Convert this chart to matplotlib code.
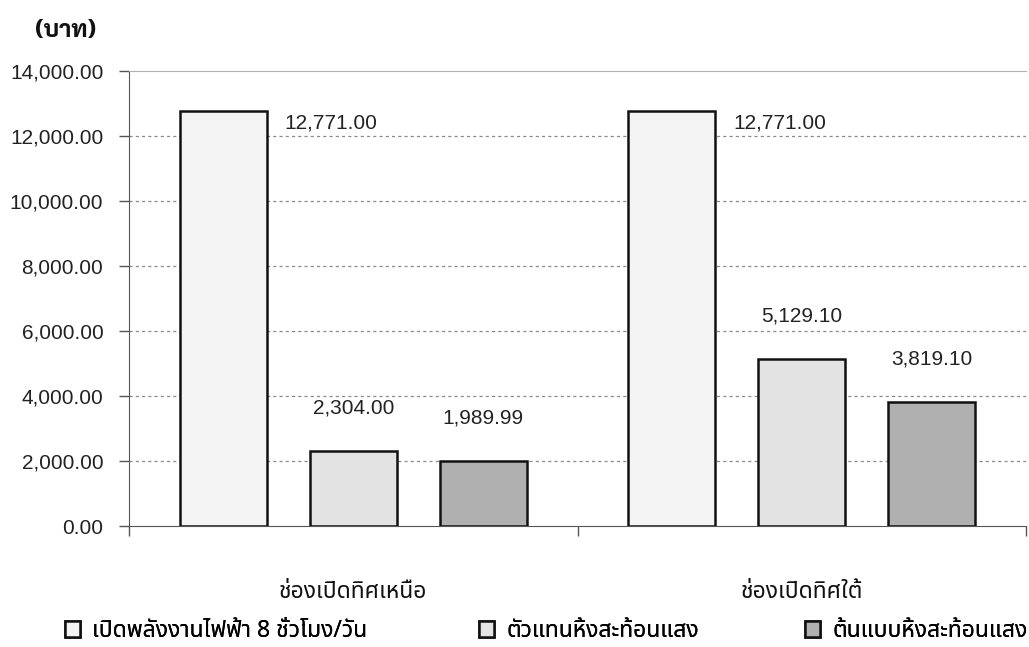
import numpy as np
import matplotlib
matplotlib.use("Agg")
import matplotlib.pyplot as plt

plt.rcParams['font.family'] = ['Liberation Sans', 'Noto Sans Thai', 'DejaVu Sans']
thai = ['Noto Sans Thai', 'Liberation Sans', 'DejaVu Sans']

# ค่าใช้จ่าย (บาท) แยกตามทิศของช่องเปิด
groups = ['ช่องเปิดทิศเหนือ', 'ช่องเปิดทิศใต้']
series = ['เปิดพลังงานไฟฟ้า 8 ชั่วโมง/วัน', 'ตัวแทนหิ้งสะท้อนแสง', 'ต้นแบบหิ้งสะท้อนแสง']
electric = [12771.00, 12771.00]
model_shelf = [2304.00, 5129.10]
proto_shelf = [1989.99, 3819.10]
yticks = [0, 2000, 4000, 6000, 8000, 10000, 12000, 14000]

values = [electric, model_shelf, proto_shelf]
colors = ['#f4f4f4', '#e3e3e3', '#b0b0b0']

fig = plt.figure(figsize=(10.29, 6.47), dpi=100)
ax = fig.add_axes([0.1254, 0.187, 0.8717, 0.7033])

x = np.arange(len(groups))
w = 0.194
step = 0.29
bars = []
for i, (vals, c) in enumerate(zip(values, colors)):
    b = ax.bar(x + (i - 1) * step, vals, w, color=c, edgecolor='#111111',
               linewidth=1.8, label=series[i], zorder=3)
    bars.append(b)
    for rect, v in zip(b, vals):
        txt = f'{v:,.2f}'
        if i == 0:
            ax.annotate(txt, (rect.get_x() + rect.get_width(), v),
                        xytext=(13, -9), textcoords='offset points',
                        ha='left', va='center', fontsize=15, color='#222222')
        else:
            ax.annotate(txt, (rect.get_x() + rect.get_width() / 2, v),
                        xytext=(0, 31), textcoords='offset points',
                        ha='center', va='center', fontsize=15, color='#222222')

ax.set_xlim(-0.5, 1.5)
ax.set_ylim(0, 14000)
ax.set_yticks(yticks)
ax.set_yticklabels([f'{t:,.2f}' for t in yticks], fontsize=15, color='#222222')
ax.tick_params(axis='y', length=7.5, width=1, color='#555555', pad=11)

ax.set_xticks(x)
ax.set_xticklabels(groups, family=thai, fontsize=16.5, color='#111111')
ax.tick_params(axis='x', which='major', length=0, pad=39)
ax.set_xticks([-0.5, 0.5, 1.5], minor=True)
ax.tick_params(axis='x', which='minor', length=7, width=1, color='#555555')

for yv in yticks[1:-1]:
    ax.axhline(yv, color='#8a8a8a', linestyle=(0, (2.5, 2.5)), linewidth=0.9, zorder=1)

ax.spines['top'].set_color('#b0b0b0')
ax.spines['right'].set_visible(False)
ax.spines['left'].set_color('#555555')
ax.spines['bottom'].set_color('#555555')

fig.text(35 / 1029, 1 - 31 / 647, '(บาท)', family=['Sarabun', 'Noto Sans Thai', 'DejaVu Sans'],
         fontsize=17, fontweight='heavy', va='center', ha='left', color='#111111')

# one legend per series so each entry sits at its own spot
anchors = [65 / 1029, 479 / 1029, 805 / 1029]
for b, name, xa in zip(bars, series, anchors):
    leg = fig.legend([b], [name], loc='center left', bbox_to_anchor=(xa, 1 - 631 / 647),
                     frameon=False, borderpad=0, borderaxespad=0,
                     handlelength=0.65, handleheight=0.65, handletextpad=0.55,
                     prop={'family': thai, 'size': 16.5})
    fig.add_artist(leg)

fig.savefig('out.png', dpi=100)
